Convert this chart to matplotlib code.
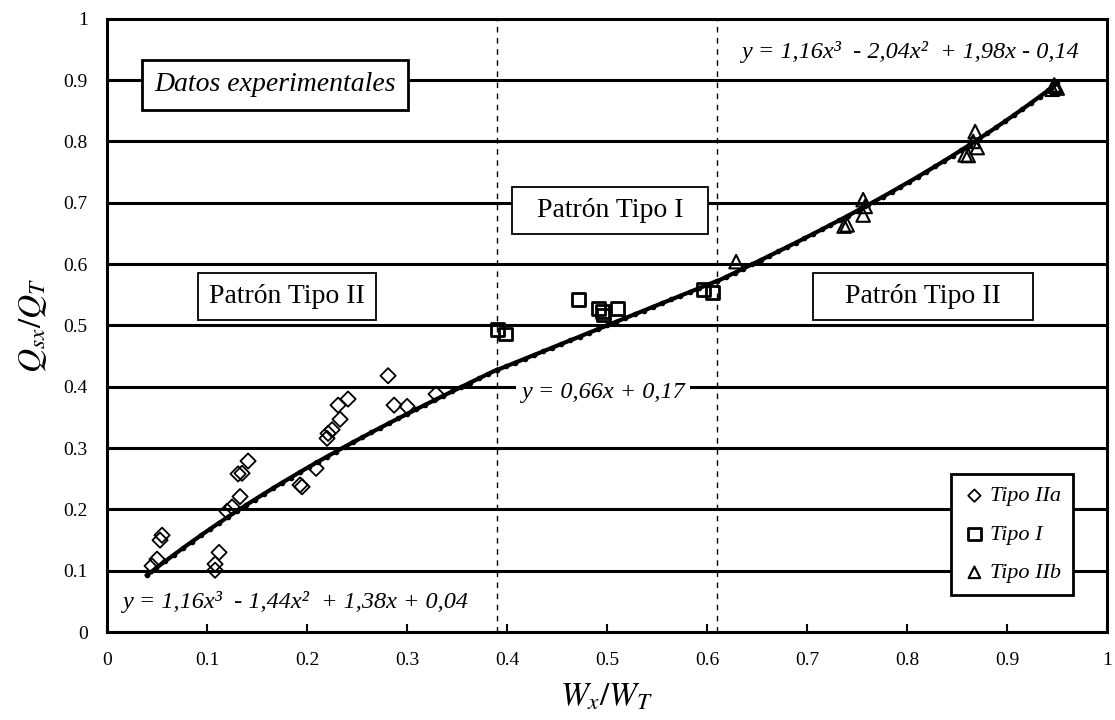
import numpy as np
import matplotlib.pyplot as plt

plt.rcParams['font.family'] = ['Liberation Serif', 'DejaVu Serif']
plt.rcParams['mathtext.fontset'] = 'stix'

tipo_IIa_x = [0.045, 0.050, 0.053, 0.055, 0.108, 0.108, 0.112, 0.120, 0.125, 0.133,
              0.131, 0.135, 0.141, 0.193, 0.195, 0.209, 0.220, 0.221, 0.225, 0.233,
              0.231, 0.241, 0.281, 0.287, 0.300, 0.329]
tipo_IIa_y = [0.108, 0.119, 0.150, 0.158, 0.101, 0.111, 0.130, 0.197, 0.204, 0.221,
              0.258, 0.259, 0.279, 0.240, 0.237, 0.267, 0.316, 0.324, 0.330, 0.347,
              0.370, 0.380, 0.418, 0.370, 0.368, 0.388]

tipo_I_x = [0.390, 0.398, 0.471, 0.491, 0.495, 0.496, 0.510, 0.596, 0.605]
tipo_I_y = [0.493, 0.486, 0.542, 0.528, 0.523, 0.517, 0.528, 0.558, 0.554]

tipo_IIb_x = [0.629, 0.737, 0.740, 0.756, 0.756, 0.758, 0.858, 0.861, 0.866, 0.868,
              0.870, 0.945, 0.948, 0.950, 0.947]
tipo_IIb_y = [0.604, 0.662, 0.664, 0.680, 0.705, 0.694, 0.778, 0.777, 0.800, 0.816,
              0.790, 0.885, 0.890, 0.887, 0.892]

# ajustes por tramos (coeficientes del grafico)
coef_1 = [1.16, -1.44, 1.38, 0.04]
coef_2 = [0.66, 0.17]
coef_3 = [1.16, -2.04, 1.98, -0.14]
limites = [0.04, 0.39, 0.61, 0.95]

fig = plt.figure(figsize=(11.15, 7.2), dpi=100)
ax = fig.add_axes([0.096, 0.122, 0.897, 0.852])

for v in np.arange(0.1, 0.95, 0.1):
    ax.axhline(v, color='black', lw=2.2, zorder=1)
for v in limites[1:3]:
    ax.axvline(v, color='black', lw=1.0, ls=(0, (4, 4)), zorder=1)

x1 = np.linspace(limites[0], limites[1], 40)
x2 = np.linspace(limites[1], limites[2], 25)
x3 = np.linspace(limites[2], limites[3], 40)
xs = np.concatenate([x1, x2, x3])
ys = np.concatenate([np.polyval(coef_1, x1), np.polyval(coef_2, x2), np.polyval(coef_3, x3)])
ax.plot(xs, ys, color='black', lw=3.0, marker='o', ms=3, zorder=3)

ax.scatter(tipo_IIa_x, tipo_IIa_y, marker='D', s=60, facecolors='none',
           edgecolors='black', linewidths=1.3, zorder=4, label='Tipo IIa')
ax.scatter(tipo_I_x, tipo_I_y, marker='s', s=85, facecolors='none',
           edgecolors='black', linewidths=2.0, zorder=4, label='Tipo I')
ax.scatter(tipo_IIb_x, tipo_IIb_y, marker='^', s=95, facecolors='none',
           edgecolors='black', linewidths=1.5, zorder=4, label='Tipo IIb')

ax.set_xlim(0, 1)
ax.set_ylim(0, 1)
ax.set_xticks(np.arange(0, 1.01, 0.1))
ax.set_yticks(np.arange(0, 1.01, 0.1))
ax.set_xticklabels(['0', '0.1', '0.2', '0.3', '0.4', '0.5', '0.6', '0.7', '0.8', '0.9', '1'])
ax.set_yticklabels(['0', '0.1', '0.2', '0.3', '0.4', '0.5', '0.6', '0.7', '0.8', '0.9', '1'])
ax.tick_params(axis='x', direction='in', length=6, width=1.5, labelsize=14, pad=14)
ax.tick_params(axis='y', direction='in', length=0, labelsize=14, pad=14)
for s in ax.spines.values():
    s.set_linewidth(2.2)

ax.set_xlabel('$W_x/W_T$', fontsize=24, labelpad=10)
ax.set_ylabel('$Q_{sx}/Q_T$', fontsize=24, labelpad=10)

caja = dict(boxstyle='square,pad=0.4', fc='white', ec='black', lw=1.3)
ax.text(0.168, 0.892, 'Datos experimentales', style='italic', fontsize=20,
        ha='center', va='center', bbox=dict(boxstyle='square,pad=0.45', fc='white', ec='black', lw=2.0), zorder=5)
ax.text(0.503, 0.687, '  Patrón Tipo I  ', fontsize=20, ha='center', va='center', bbox=caja, zorder=5)
ax.text(0.18, 0.547, 'Patrón Tipo II', fontsize=20, ha='center', va='center', bbox=caja, zorder=5)
ax.text(0.816, 0.547, '   Patrón Tipo II   ', fontsize=20, ha='center', va='center', bbox=caja, zorder=5)

ax.text(0.803, 0.945, 'y = 1,16x³  - 2,04x²  + 1,98x - 0,14', style='italic', fontsize=17.5,
        ha='center', va='center', zorder=5)
ax.text(0.496, 0.39, 'y = 0,66x + 0,17', style='italic', fontsize=17.5, ha='center', va='center',
        bbox=dict(boxstyle='square,pad=0.2', fc='white', ec='none'), zorder=5)
ax.text(0.188, 0.049, 'y = 1,16x³  - 1,44x²  + 1,38x + 0,04', style='italic', fontsize=17.5,
        ha='center', va='center', zorder=5)

leg = ax.legend(loc='lower right', bbox_to_anchor=(0.966, 0.06), borderaxespad=0,
                fancybox=False, edgecolor='black', framealpha=1, handletextpad=0.2,
                handlelength=1.0, borderpad=0.55, labelspacing=0.8,
                prop={'style': 'italic', 'size': 16})
leg.get_frame().set_linewidth(2.0)
for h, sz in zip(leg.legend_handles, [40, 80, 70]):
    h.set_sizes([sz])

fig.savefig('out.png', dpi=100)
